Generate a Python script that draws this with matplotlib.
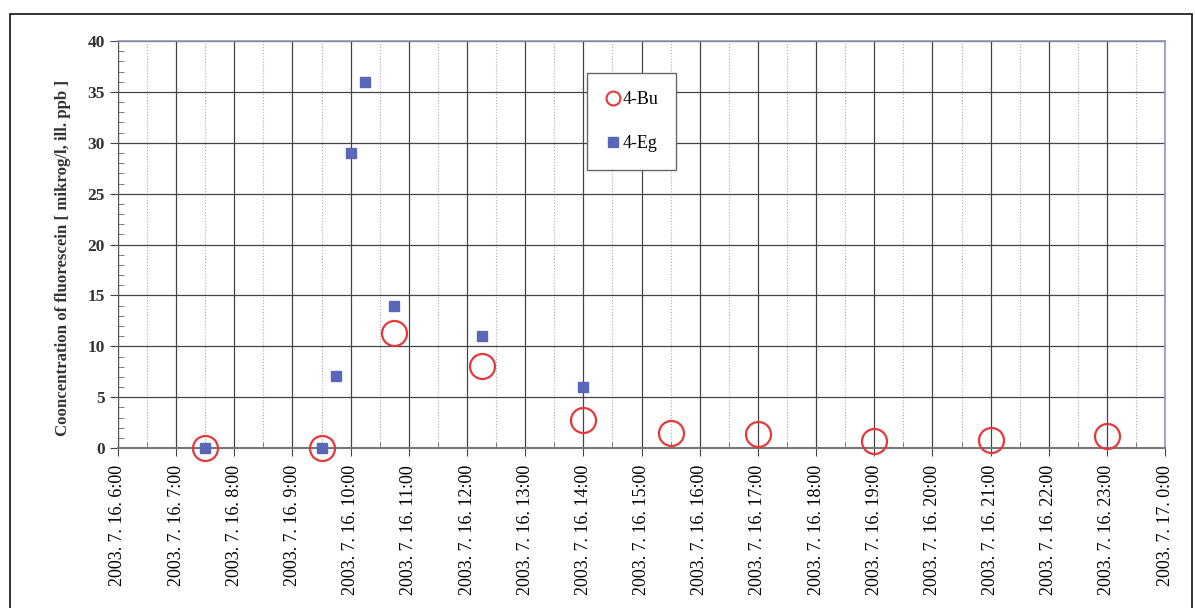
import matplotlib
matplotlib.use("Agg")
from matplotlib import pyplot as plt
import matplotlib.dates as mdates
from matplotlib.patches import Rectangle
from datetime import datetime

# Mérési időpontok és koncentrációk
bu_times = ["2003-07-16 07:30", "2003-07-16 09:30", "2003-07-16 10:45", "2003-07-16 12:15",
            "2003-07-16 14:00", "2003-07-16 15:30", "2003-07-16 17:00", "2003-07-16 19:00",
            "2003-07-16 21:00", "2003-07-16 23:00"]
bu_values = [0.0, 0.0, 11.3, 8.05, 2.75, 1.45, 1.35, 0.7, 0.8, 1.2]

eg_times = ["2003-07-16 07:30", "2003-07-16 09:30", "2003-07-16 09:45", "2003-07-16 10:00",
            "2003-07-16 10:15", "2003-07-16 10:45", "2003-07-16 12:15", "2003-07-16 14:00"]
eg_values = [0.0, 0.0, 7.1, 29.0, 36.0, 14.0, 11.0, 6.0]

x_start = "2003-07-16 06:00"
x_end = "2003-07-17 00:00"

ylabel = "Cooncentration of fluorescein [ mikrog/l, ill. ppb ]"


def parse(ts):
    return datetime.strptime(ts, "%Y-%m-%d %H:%M")


def tick_label(x, pos=None):
    d = mdates.num2date(x)
    return f"{d.year}. {d.month}. {d.day}. {d.hour}:{d.minute:02d}"


plt.rcParams['font.family'] = ['Liberation Serif', 'DejaVu Serif']

fig = plt.figure(figsize=(11.95, 6.08), dpi=100)
ax = fig.add_axes([0.0987, 0.263, 0.8763, 0.6695])

# Keret a kép körül
fig.patches.append(Rectangle((10 / 1195, -0.05), 1182 / 1195, 1.05 - 14 / 608,
                             transform=fig.transFigure, fill=False,
                             edgecolor='#222222', linewidth=1.3))

# Rács
ax.xaxis.set_major_locator(mdates.HourLocator(interval=1))
ax.xaxis.set_minor_locator(mdates.MinuteLocator(byminute=[30]))
ax.xaxis.set_major_formatter(plt.FuncFormatter(tick_label))
ax.set_yticks(range(0, 41, 5))
ax.set_yticks(range(0, 41, 1), minor=True)

ax.grid(which='major', axis='both', color='#444444', linewidth=0.9)
ax.grid(which='minor', axis='x', color='#aaaaaa', linestyle=':', linewidth=0.8)
ax.set_axisbelow(True)

# Adatsorok
ax.plot([parse(t) for t in bu_times], bu_values, linestyle='', marker='o',
        markersize=18, markerfacecolor='none', markeredgecolor='#e5383b',
        markeredgewidth=1.6, label='4-Bu', zorder=3, clip_on=False)
ax.plot([parse(t) for t in eg_times], eg_values, linestyle='', marker='s',
        markersize=7.5, color='#5a67b8', label='4-Eg', zorder=4, clip_on=False)

ax.set_xlim(parse(x_start), parse(x_end))
ax.set_ylim(0, 40)

# Tengelyek
for side in ['top', 'right']:
    ax.spines[side].set_color('#9098b8')
    ax.spines[side].set_linewidth(1.2)
ax.spines['left'].set_color('#555555')
ax.spines['bottom'].set_color('#777777')
ax.spines['bottom'].set_linewidth(1.5)

ax.tick_params(axis='both', which='major', direction='out', length=6, color='#444444')
ax.tick_params(axis='both', which='minor', direction='in', length=4, color='#666666')
ax.tick_params(axis='x', which='major', labelsize=13, rotation=90, pad=6)
ax.tick_params(axis='y', which='major', labelsize=12.5)
for lbl in ax.get_yticklabels():
    lbl.set_fontweight('bold')
    lbl.set_color('#333333')

ax.set_ylabel(ylabel, fontsize=12.1, fontweight='bold', color='#333333')
ax.yaxis.set_label_coords(-0.045, 0.467)

# Jelmagyarázat
handles = [
    plt.Line2D([0], [0], marker='o', linestyle='', markersize=10, markerfacecolor='none',
               markeredgecolor='#e5383b', markeredgewidth=1.5, label='4-Bu'),
    plt.Line2D([0], [0], marker='s', linestyle='', markersize=6.5, color='#5a67b8', label='4-Eg'),
]
leg = ax.legend(handles=handles, loc='upper left', bbox_to_anchor=(0.448, 0.921),
                fontsize=13, labelspacing=1.5, handletextpad=0.05, handlelength=0.9,
                borderpad=1.0, fancybox=False, framealpha=1, edgecolor='#666666',
                borderaxespad=0)
leg.get_frame().set_linewidth(1.0)

fig.savefig("out.png", dpi=100)
